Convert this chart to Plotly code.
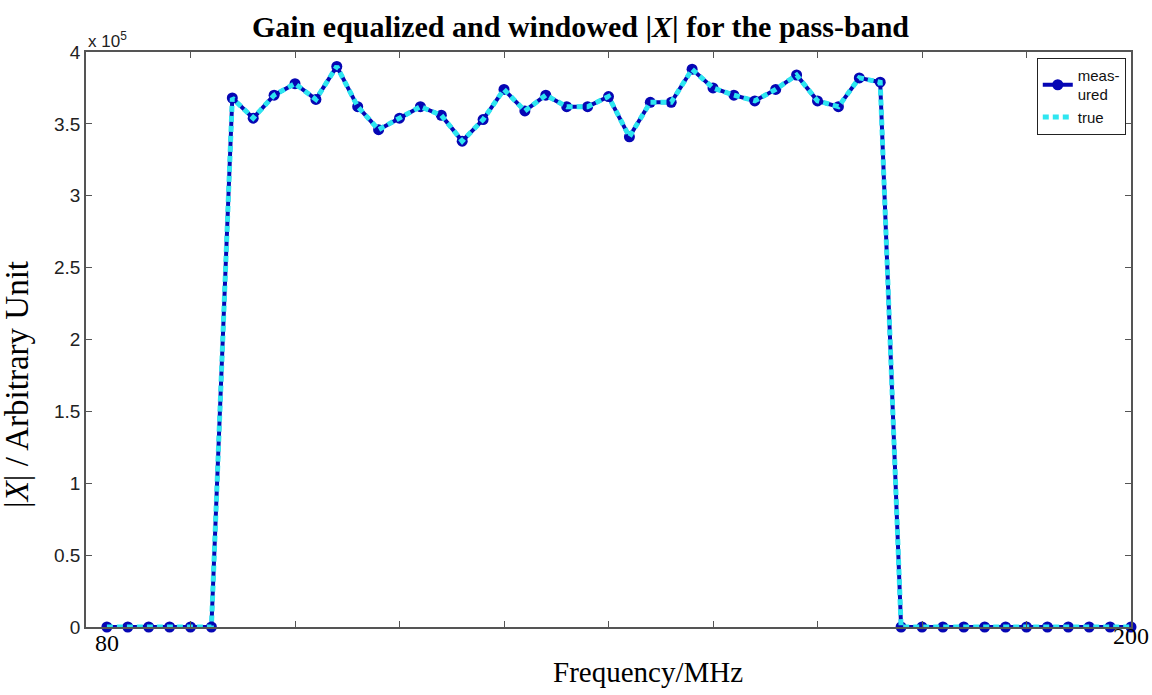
import plotly.graph_objects as go

# Frequency grid of the processed spectrum (MHz)
freq_mhz = [82.4, 84.8, 87.2, 89.6, 92.0, 94.4, 96.8, 99.2, 101.6, 104.0,
            106.4, 108.8, 111.2, 113.6, 116.0, 118.4, 120.8, 123.2, 125.6, 128.0,
            130.4, 132.8, 135.2, 137.6, 140.0, 142.4, 144.8, 147.2, 149.6, 152.0,
            154.4, 156.8, 159.2, 161.6, 164.0, 166.4, 168.8, 171.2, 173.6, 176.0,
            178.4, 180.8, 183.2, 185.6, 188.0, 190.4, 192.8, 195.2, 197.6, 200.0]

# |X| in units of 1e5 (arbitrary unit)
measured_mag = [0, 0, 0, 0, 0, 0,
                3.68, 3.54, 3.70, 3.78, 3.67, 3.90, 3.62, 3.46, 3.54, 3.62,
                3.56, 3.38, 3.53, 3.74, 3.59, 3.70, 3.62, 3.62, 3.69, 3.41,
                3.65, 3.65, 3.88, 3.75, 3.70, 3.66, 3.74, 3.84, 3.66, 3.62,
                3.82, 3.79,
                0, 0, 0, 0, 0, 0, 0, 0, 0, 0, 0, 0]
true_mag = [0, 0, 0, 0, 0, 0,
            3.68, 3.54, 3.70, 3.78, 3.67, 3.90, 3.62, 3.46, 3.54, 3.62,
            3.56, 3.38, 3.53, 3.74, 3.59, 3.70, 3.62, 3.62, 3.69, 3.41,
            3.65, 3.65, 3.88, 3.75, 3.70, 3.66, 3.74, 3.84, 3.66, 3.62,
            3.82, 3.79,
            0, 0, 0, 0, 0, 0, 0, 0, 0, 0, 0, 0]

SCALE = 1e5
y_ticks = [0, 0.5, 1, 1.5, 2, 2.5, 3, 3.5, 4]
y_tick_text = ["0", "0.5", "1", "1.5", "2", "2.5", "3", "3.5", "4"]
x_ticks = [80, 92, 104, 116, 128, 140, 152, 164, 176, 188, 200]

BLUE = "#0606b4"
CYAN = "#2ee6f0"
AXIS = "#555555"

fig = go.Figure()
fig.add_trace(go.Scatter(
    x=freq_mhz, y=[v * SCALE for v in measured_mag], name="meas-<br>ured",
    mode="lines+markers", line=dict(color=BLUE, width=4),
    marker=dict(symbol="circle", size=11, color=BLUE),
    cliponaxis=False))
fig.add_trace(go.Scatter(
    x=freq_mhz, y=[v * SCALE for v in true_mag], name="true",
    mode="lines", line=dict(color=CYAN, width=5, dash="6px,4px"),
    cliponaxis=False))

fig.update_layout(
    width=1152, height=695,
    margin=dict(l=86, r=21, t=52, b=68),
    paper_bgcolor="white", plot_bgcolor="white",
    showlegend=True,
    legend=dict(x=0.995, y=0.99, xanchor="right", yanchor="top",
                bgcolor="white", bordercolor="#222222", borderwidth=1,
                font=dict(family="Liberation Sans, Arial", size=15, color="#111111"),
                itemwidth=30, tracegroupgap=0),
    xaxis=dict(range=[80, 200], tickvals=x_ticks, showticklabels=False,
               ticks="inside", ticklen=6, tickcolor=AXIS,
               showline=True, linecolor=AXIS, linewidth=1.5, mirror="ticks",
               showgrid=False, zeroline=False),
    yaxis=dict(range=[0, 4 * SCALE], tickvals=[t * SCALE for t in y_ticks],
               ticktext=y_tick_text, ticks="inside", ticklen=6, tickcolor=AXIS,
               showline=True, linecolor=AXIS, linewidth=1.5, mirror="ticks",
               showgrid=False, zeroline=False,
               tickfont=dict(family="Liberation Sans, Arial", size=19, color="#222222")),
)

serif = "Liberation Serif, Times New Roman"
fig.add_annotation(text="<b>Gain equalized and windowed |<i>X</i>| for the pass-band</b>",
                   xref="paper", yref="paper", x=0.473, y=1.0435,
                   xanchor="center", yanchor="middle", showarrow=False,
                   font=dict(family=serif, size=30, color="black"))
fig.add_annotation(text="|<i>X</i>| / Arbitrary Unit",
                   xref="paper", yref="paper", x=-0.066, y=0.421, textangle=-90,
                   xanchor="center", yanchor="middle", showarrow=False,
                   font=dict(family=serif, size=33, color="black"))
fig.add_annotation(text="Frequency/MHz",
                   xref="paper", yref="paper", x=0.538, y=-0.078,
                   xanchor="center", yanchor="middle", showarrow=False,
                   font=dict(family=serif, size=29, color="black"))
fig.add_annotation(text="80", xref="x", yref="paper", x=80, xshift=21, y=-0.028,
                   xanchor="center", yanchor="middle", showarrow=False,
                   font=dict(family=serif, size=24, color="black"))
fig.add_annotation(text="200", xref="x", yref="paper", x=200, y=-0.0157,
                   xanchor="center", yanchor="middle", showarrow=False,
                   font=dict(family=serif, size=24, color="black"))
fig.add_annotation(text="x 10<sup>5</sup>", xref="paper", yref="paper", x=0.0, y=1.021,
                   xanchor="left", yanchor="middle", showarrow=False,
                   font=dict(family="Liberation Sans, Arial", size=17, color="#222222"))

fig.write_html("out.html")
